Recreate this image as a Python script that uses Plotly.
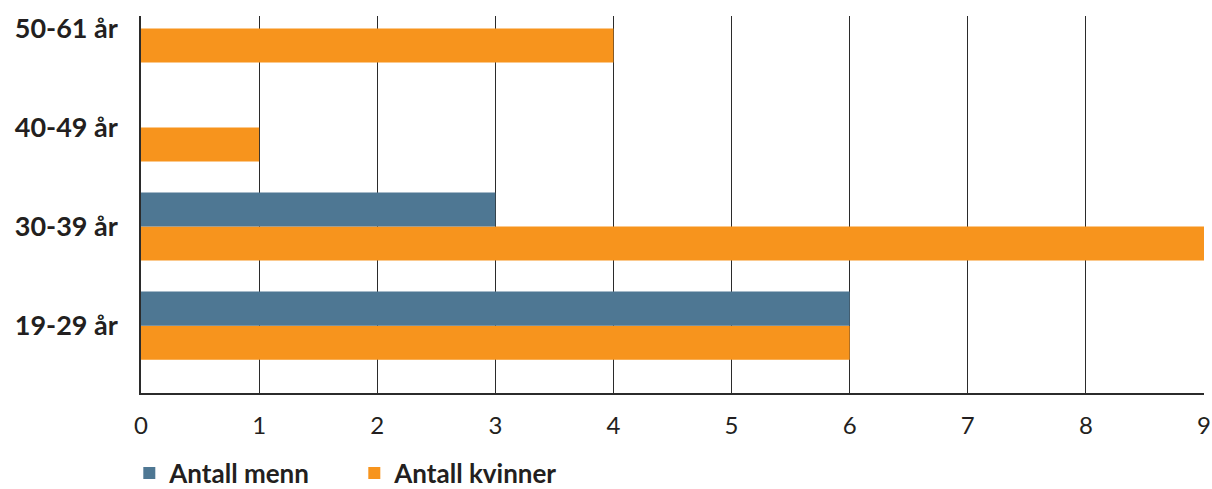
import plotly.graph_objects as go

categories = ["19-29 år", "30-39 år", "40-49 år", "50-61 år"]
menn = [6, 3, 0, 0]
kvinner = [6, 9, 1, 4]
x_ticks = [0, 1, 2, 3, 4, 5, 6, 7, 8, 9]

BLUE = "#4e7793"
ORANGE = "#f7941d"
TEXT = "#231f20"

fig = go.Figure()
fig.add_trace(go.Bar(y=categories, x=kvinner, orientation="h", name="Antall kvinner",
                     marker=dict(color=ORANGE, line=dict(width=0))))
fig.add_trace(go.Bar(y=categories, x=menn, orientation="h", name="Antall menn",
                     marker=dict(color=BLUE, line=dict(width=0))))

fig.update_layout(
    width=1212, height=489,
    margin=dict(l=141, r=8, t=16, b=96, autoexpand=False),
    paper_bgcolor="white", plot_bgcolor="white",
    barmode="group", bargap=0.313, bargroupgap=0,
    font=dict(family="Lato", color=TEXT),
    showlegend=True,
    legend=dict(orientation="h", x=-0.011, xanchor="left", y=-0.15, yanchor="top",
                traceorder="reversed", font=dict(size=26, family="Lato", weight="bold"),
                itemwidth=30, entrywidth=180, bgcolor="rgba(0,0,0,0)"),
    xaxis=dict(range=[0, 9], tickvals=x_ticks, showgrid=True, gridcolor="#2b2b2b",
               gridwidth=1.3, showline=True, linecolor="#2b2b2b", linewidth=1.5,
               zeroline=False, ticks="", tickfont=dict(size=24, color=TEXT),
               ticklabelstandoff=10, layer="above traces", fixedrange=True),
    yaxis=dict(type="category", categoryorder="array", categoryarray=categories,
               range=[-0.68, 3.126], showgrid=False, showline=True,
               linecolor="#2b2b2b", linewidth=1.5, ticks="",
               tickfont=dict(size=27, color=TEXT, weight="bold"),
               ticklabelstandoff=16, fixedrange=True),
)

fig.write_html("out.html")
